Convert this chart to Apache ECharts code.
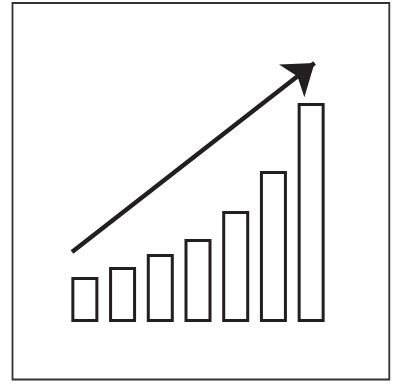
<!DOCTYPE html>
<html>
<head>
<meta charset="utf-8">
<script src="https://cdn.jsdelivr.net/npm/echarts@6/dist/echarts.min.js"></script>
<style>
  html, body { margin: 0; padding: 0; background: #fff; }
  #chart { width: 394px; height: 384px; }
</style>
</head>
<body>
<div id="chart"></div>
<script>
// 柱子（类目 + 高度）
let categories = ['1', '2', '3', '4', '5', '6', '7'];
let barValues = [45, 55, 68, 83, 111, 151, 219];
// 趋势箭头的起点和箭尖（x 为类目序号，y 与柱子同一刻度）
let trendFrom = [-0.34, 70];
let trendTo = [6.09, 259];

let ink = '#231f20';

let myChart = echarts.init(document.getElementById('chart'), null, { renderer: 'canvas' });
let options = {
    backgroundColor: '#fff',
    animation: false,
    grid: { left: 66, right: 64, top: 22, bottom: 62 },
    xAxis: [
        {
            type: 'category',
            data: categories,
            show: false
        },
        {
            // 与类目轴重合的数值轴，用来画箭头
            type: 'value',
            min: -0.5,
            max: 6.5,
            show: false
        }
    ],
    yAxis: {
        type: 'value',
        min: 0,
        max: 300,
        show: false
    },
    // 外框
    graphic: [
        {
            type: 'rect',
            silent: true,
            shape: { x: 12.5, y: 3, width: 376.8, height: 376.5 },
            style: { fill: 'none', stroke: '#333', lineWidth: 1.8 }
        }
    ],
    series: [
        {
            type: 'bar',
            data: barValues,
            barWidth: 27,
            silent: true,
            itemStyle: {
                color: '#fff',
                borderColor: ink,
                borderWidth: 3
            }
        },
        {
            type: 'line',
            xAxisIndex: 1,
            data: [],
            silent: true,
            itemStyle: { color: ink },
            markLine: {
                silent: true,
                symbol: ['none', 'arrow'],
                label: { show: false },
                lineStyle: { color: ink, width: 4.5, type: 'solid' },
                itemStyle: { color: ink },
                emphasis: { disabled: true },
                data: [
                    [
                        { coord: trendFrom, symbol: 'none' },
                        { coord: trendTo, symbol: 'arrow', symbolSize: [31, 29] }
                    ]
                ]
            }
        }
    ]
};
myChart.setOption(options);
</script>
</body>
</html>
